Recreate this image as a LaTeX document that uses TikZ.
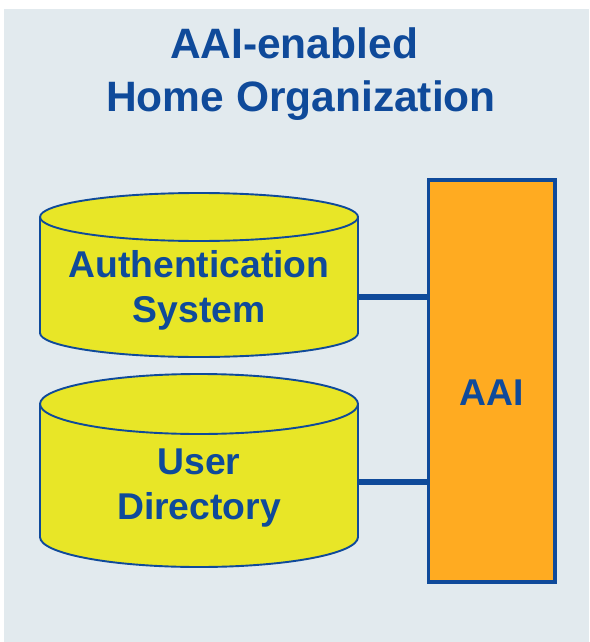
\documentclass[tikz,border=0pt]{standalone}
\usepackage{fontspec}
\setmainfont{Liberation Sans}
\definecolor{panelbg}{HTML}{E2EAEE}
\definecolor{edgeblue}{HTML}{0F4A9A}
\definecolor{cylfill}{HTML}{E8E627}
\definecolor{aaifill}{HTML}{FFAB21}
\tikzset{
  x=1pt,y=-1pt,
  label text/.style={text=edgeblue,font=\fontsize{37.3}{45}\selectfont\bfseries,align=center,inner sep=0pt},
  title text/.style={text=edgeblue,font=\fontsize{42.5}{53}\selectfont\bfseries,align=center,inner sep=0pt},
  cyl line/.style={draw=edgeblue,line width=1.9pt,fill=cylfill,line join=round},
  aai box/.style={draw=edgeblue,line width=3.4pt,fill=aaifill,inner sep=0pt,minimum width=126.5pt,minimum height=402pt},
  link/.style={draw=edgeblue,line width=5.2pt}
}
\begin{document}
\begin{tikzpicture}
\useasboundingbox (0,0) rectangle (589,642);
\fill[white] (0,0) rectangle (589,642);
\fill[panelbg] (4,9) rectangle (589,642);
\node[title text] (title) at (301,74.5) {AAI-enabled\hspace{14pt}\mbox{}\\Home Organization};
\node[aai box] (aai) at (491.75,381) {};
\coordinate (authport) at (350,297);
\coordinate (userport) at (350,482);
\draw[link] (authport) -- (aai.west |- authport);
\draw[link] (userport) -- (aai.west |- userport);
\node[aai box] at (aai.center) {};
\node[label text] (aailabel) at (aai.center) [yshift=-12pt] {AAI};
% authentication cylinder
\path[cyl line] (40,217) arc[start angle=180,end angle=360,x radius=159,y radius=24]
  -- (358,333) arc[start angle=0,end angle=180,x radius=159,y radius=24] -- cycle;
\draw[cyl line,fill=none] (40,217) arc[start angle=180,end angle=0,x radius=159,y radius=24];
\node[label text] (auth) at (199,290) {Authentication\\System};
% directory cylinder
\path[cyl line] (40,404) arc[start angle=180,end angle=360,x radius=159,y radius=30]
  -- (358,537) arc[start angle=0,end angle=180,x radius=159,y radius=30] -- cycle;
\draw[cyl line,fill=none] (40,404) arc[start angle=180,end angle=0,x radius=159,y radius=30];
\node[label text] (user) at (199,488.5) {User\\Directory};
\end{tikzpicture}
\end{document}
